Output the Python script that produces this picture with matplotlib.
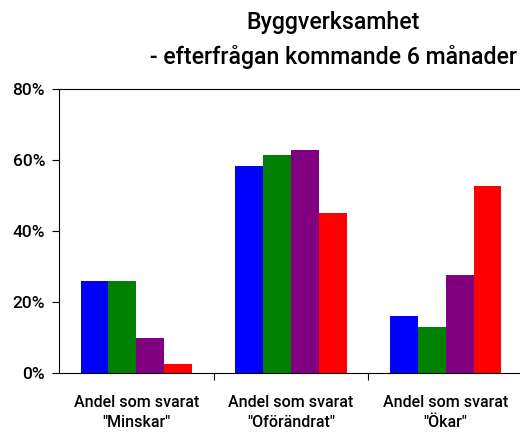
import matplotlib
matplotlib.use("Agg")
import matplotlib.pyplot as plt
import numpy as np

categories = ['Andel som svarat\n"Minskar"', 'Andel som svarat\n"Oförändrat"', 'Andel som svarat\n"Ökar"']
series_1 = [26, 58.3, 16]
series_2 = [26, 61.4, 13]
series_3 = [10, 62.8, 27.6]
series_4 = [2.5, 45, 52.8]
colors = ["#0000ff", "#008000", "#800080", "#ff0000"]

plt.rcParams['font.family'] = ['Roboto', 'DejaVu Sans']

fig = plt.figure(figsize=(5.2, 4.32), dpi=100)
ax = fig.add_axes([59 / 520, (432 - 373) / 432, 464 / 520, 284 / 432])

x = np.arange(len(categories))
w = 0.18
for i, vals in enumerate([series_1, series_2, series_3, series_4]):
    ax.bar(x + (i - 1.5) * w, vals, width=w, color=colors[i], zorder=2)

ax.set_xlim(-0.5, 2.5)
ax.set_ylim(0, 80)
ax.set_yticks([0, 20, 40, 60, 80])
ax.set_yticklabels(["0%", "20%", "40%", "60%", "80%"], fontsize=12.5, fontweight="medium")
ax.axhline(80, color="black", lw=0.8, clip_on=False)

ax.set_xticks([0.5, 1.5])
ax.set_xticklabels([])
ax.tick_params(axis="x", direction="out", length=5, width=0.8)
ax.tick_params(axis="y", direction="out", length=5, width=0.8, pad=5)
for i, lab in enumerate(categories):
    ax.text(x[i], -6.3, lab, ha="center", va="top", fontsize=11.5, fontweight="medium",
            linespacing=1.4)

for s in ["top", "right"]:
    ax.spines[s].set_visible(False)
for s in ["left", "bottom"]:
    ax.spines[s].set_linewidth(0.8)

fig.text(333 / 520, 1 - 23 / 432, "Byggverksamhet", ha="center", va="center",
         fontsize=16.7, fontweight="medium")
fig.text(333 / 520, 1 - 57 / 432, "- efterfrågan kommande 6 månader", ha="center", va="center",
         fontsize=16.7, fontweight="medium")

fig.savefig("out.png", dpi=100)
